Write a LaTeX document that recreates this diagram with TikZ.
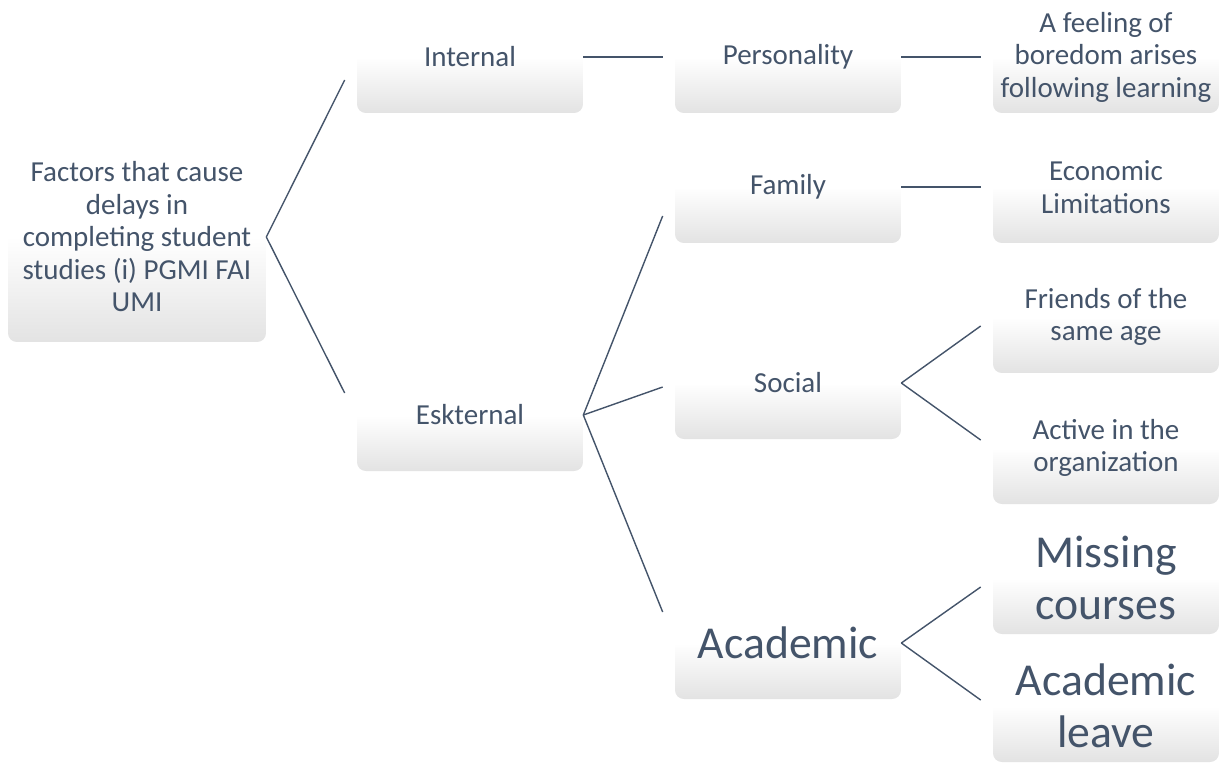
\documentclass[tikz,border=0pt]{standalone}
\usepackage{fontspec}
\setmainfont{Carlito}
\usetikzlibrary{positioning}
\definecolor{slate}{HTML}{44546A}
\tikzset{
    mybox/.style={rectangle, rounded corners=5pt, top color=white, bottom color=black!11, middle color=white, text=slate, align=center, minimum width=4.52cm, minimum height=2.24cm, inner sep=0pt, font=\fontsize{16.5}{18.5}\selectfont},
    bigtext/.style={font=\fontsize{26}{29.5}\selectfont},
    pil/.style={draw=slate, line width=0.8pt}
}

\begin{document}
\begin{tikzpicture}[x=0.02cm, y=-0.02cm]
    \useasboundingbox (0,0) rectangle (1221,762);

    % root
    \node[mybox, minimum width=5.16cm, minimum height=4.2cm] (root) at (137,237)
      {Factors that cause\\ delays in\\ completing student\\ studies (i) PGMI FAI\\ UMI};

    % level 1
    \node[mybox] (internal) at (470,57) {Internal};
    \node[mybox] (eskternal) at (470,415) {Eskternal};

    % level 2
    \node[mybox] (personality) at (788,57) {Personality};
    \node[mybox] (family) at (788,187) {Family};
    \node[mybox] (social) at (788,383) {Social};
    \node[mybox, bigtext] (academic) at (788,643) {Academic};

    % level 3
    \node[mybox] (boredom) at (1106,57) {A feeling of\\ boredom arises\\ following learning};
    \node[mybox] (economic) at (1106,187) {Economic\\ Limitations};
    \node[mybox] (friends) at (1106,317) {Friends of the\\ same age};
    \node[mybox] (active) at (1106,448) {Active in the\\ organization};
    \node[mybox, bigtext] (missing) at (1106,578) {Missing\\ courses};
    \node[mybox, bigtext] (leave) at (1106,706) {Academic\\ leave};

    % connectors
    \draw[pil] (root.east) -- ([shift={(-12,23)}]internal.west);
    \draw[pil] (root.east) -- ([shift={(-12,-22)}]eskternal.west);
    \draw[pil] (internal.east) -- ([shift={(-12,0)}]personality.west);
    \draw[pil] (eskternal.east) -- ([shift={(-12,29)}]family.west);
    \draw[pil] (eskternal.east) -- ([shift={(-12,4)}]social.west);
    \draw[pil] (eskternal.east) -- ([shift={(-12,-31)}]academic.west);
    \draw[pil] (personality.east) -- ([shift={(-12,0)}]boredom.west);
    \draw[pil] (family.east) -- ([shift={(-12,0)}]economic.west);
    \draw[pil] (social.east) -- ([shift={(-12,9)}]friends.west);
    \draw[pil] (social.east) -- ([shift={(-12,-8)}]active.west);
    \draw[pil] (academic.east) -- ([shift={(-12,9)}]missing.west);
    \draw[pil] (academic.east) -- ([shift={(-12,-6)}]leave.west);
\end{tikzpicture}
\end{document}
